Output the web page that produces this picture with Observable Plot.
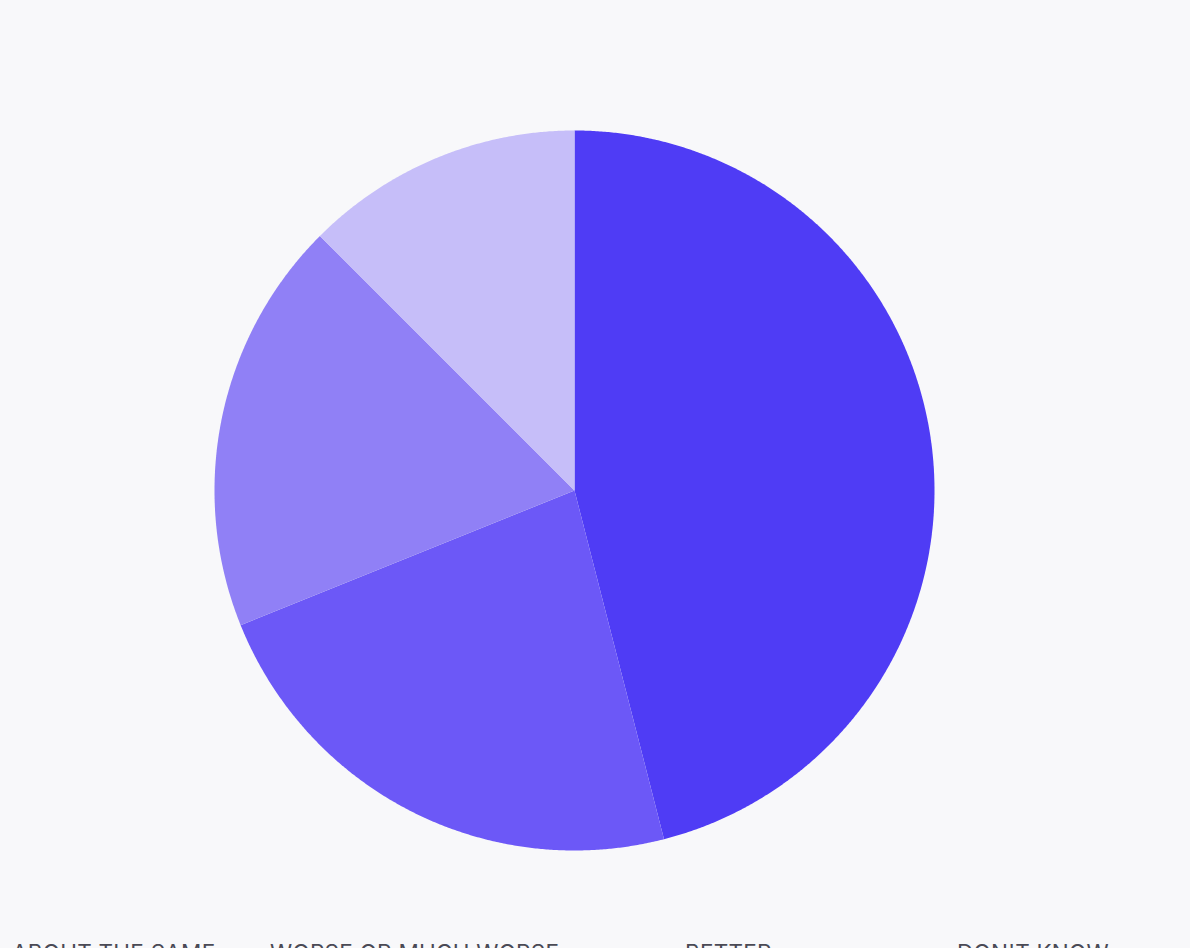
<!DOCTYPE html>
<html>
<head>
<meta charset="utf-8">
<script src="https://cdn.jsdelivr.net/npm/d3@7"></script>
<script src="https://cdn.jsdelivr.net/npm/@observablehq/plot@0.6"></script>
<style>
  html, body { margin: 0; padding: 0; background: #f8f8fa; overflow: hidden; }
  #chart { width: 1190px; }
  #legend { position: relative; height: 40px; font-family: Inter, "Noto Sans", sans-serif; font-size: 22.5px; line-height: 24px; color: #4a4a55; letter-spacing: 0.25px; }
  #legend span { position: absolute; top: 0; white-space: nowrap; }
</style>
</head>
<body>
<div id="chart"></div>
<div id="legend"></div>
<script>
const categories = ["ABOUT THE SAME", "WORSE OR MUCH WORSE", "BETTER", "DON'T KNOW"];
const values = [46.0, 22.9, 18.6, 12.5];
const colors = ["#4f3cf5", "#6c58f7", "#9080f6", "#c6bef9"];
const legendOffsets = [12, 270, 685, 957];

const total = d3.sum(values);
let start = 0;
const slices = categories.map((c, i) => {
  const a0 = start / total * 2 * Math.PI;
  start += values[i];
  const a1 = start / total * 2 * Math.PI;
  const n = Math.max(4, Math.ceil((a1 - a0) / 0.005));
  const ring = [[0, 0]];
  for (let k = 0; k <= n; k++) {
    const a = a0 + (a1 - a0) * k / n;
    ring.push([Math.sin(a), Math.cos(a)]);
  }
  ring.push([0, 0]);
  return {category: c, value: values[i], geometry: {type: "Polygon", coordinates: [ring]}};
});

const chart = Plot.plot({
  width: 1190,
  height: 941,
  marginLeft: 214,
  marginRight: 256,
  marginTop: 130,
  marginBottom: 91,
  style: {background: "#f8f8fa"},
  projection: {type: "reflect-y", domain: {type: "MultiPoint", coordinates: [[-1, -1], [1, 1]]}},
  color: {domain: categories, range: colors},
  marks: [
    Plot.geo(slices, {geometry: "geometry", fill: "category", stroke: "none"})
  ]
});
document.getElementById("chart").appendChild(chart);

const legend = document.getElementById("legend");
categories.forEach((c, i) => {
  const s = document.createElement("span");
  s.textContent = c;
  s.style.left = legendOffsets[i] + "px";
  legend.appendChild(s);
});
</script>
</body>
</html>
